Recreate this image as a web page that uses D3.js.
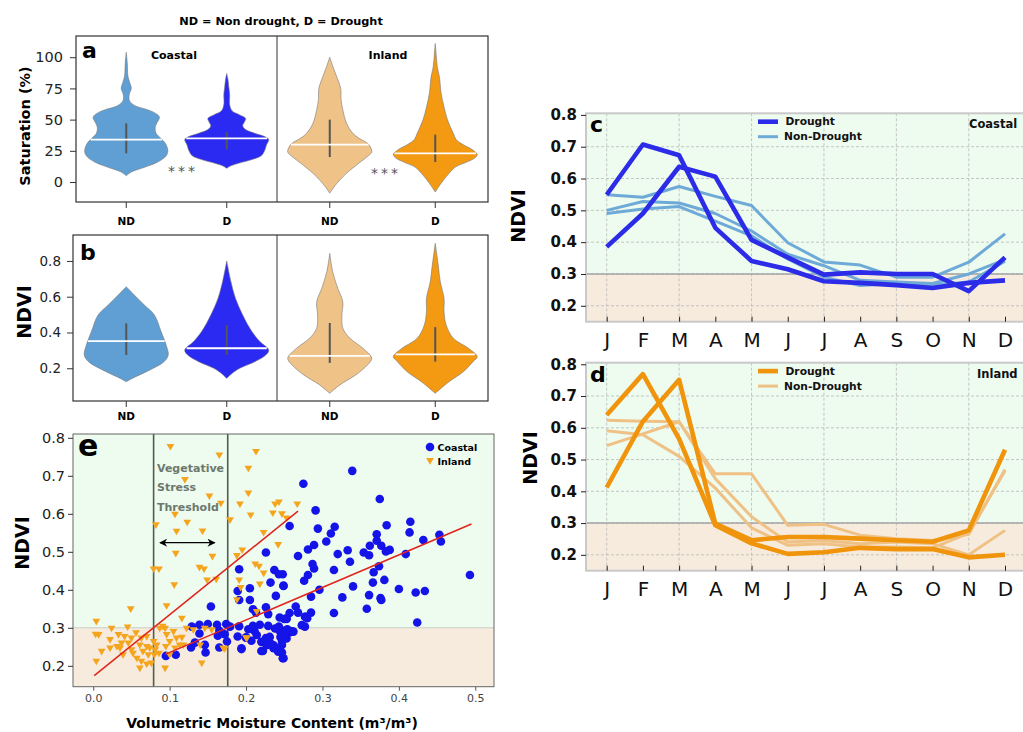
<!DOCTYPE html>
<html>
<head>
<meta charset="utf-8">
<script src="https://cdn.jsdelivr.net/npm/d3@7/dist/d3.min.js"></script>
<style>
  html, body { margin: 0; padding: 0; background: #fff; }
  svg { display: block; }
  text { font-family: "DejaVu Sans", Verdana, sans-serif; }
</style>
</head>
<body>
<svg id="fig" width="1023" height="732"></svg>
<script>
// ================= data =================
const categories = ["ND", "D"];
const violinColors = ["#5f9fd4", "#2a2af2", "#efc388", "#f39a12"];

// violin outlines: [value, relative half-width]
const satCoastalND = [[5,0],[8,0.12],[12,0.45],[16,0.75],[21,0.95],[25,0.99],[31,0.93],[35,0.82],[39,0.71],[44,0.69],[48,0.74],[52,0.79],[55,0.7],[58,0.5],[61,0.22],[65,0.08],[70,0.07],[75,0.12],[80,0.08],[85,0.04],[95,0.025],[104,0]];
const satCoastalD = [[11,0],[13,0.1],[15,0.28],[18,0.6],[21,0.82],[25,0.9],[30,0.95],[34,1.0],[36,0.93],[39,0.67],[42,0.45],[45,0.38],[48,0.42],[51,0.45],[54,0.3],[57,0.13],[62,0.07],[70,0.07],[76,0.05],[82,0.03],[87,0]];
const satInlandND = [[-9,0],[-4,0.1],[2,0.25],[7,0.4],[15,0.69],[20,0.88],[24,1.0],[28,0.97],[31,0.9],[35,0.7],[39,0.55],[47,0.4],[58,0.31],[66,0.27],[75,0.26],[84,0.17],[92,0.08],[100,0]];
const satInlandD = [[-8,0],[-1,0.14],[7,0.33],[12,0.48],[16,0.75],[19,0.93],[22,1.0],[26,0.88],[30,0.66],[34,0.5],[39,0.43],[50,0.29],[60,0.21],[71,0.14],[84,0.1],[92,0.05],[103,0.02],[111,0]];
const satMedian = [34, 35, 30, 23];
const satQ1 = [23, 26, 20, 16];
const satQ3 = [47, 40, 50, 38];
const satTicks = [0, 25, 50, 75, 100];

const ndviCoastalND = [[0.125,0],[0.15,0.2],[0.181,0.48],[0.237,0.9],[0.274,1.0],[0.33,0.95],[0.405,0.83],[0.498,0.67],[0.554,0.43],[0.61,0.19],[0.656,0]];
const ndviCoastalD = [[0.144,0],[0.17,0.12],[0.2,0.31],[0.237,0.67],[0.274,0.93],[0.302,1.0],[0.349,0.79],[0.405,0.6],[0.498,0.38],[0.59,0.21],[0.684,0.1],[0.8,0]];
const ndviInlandND = [[0.06,0],[0.107,0.24],[0.163,0.62],[0.219,0.9],[0.256,1.0],[0.312,0.79],[0.368,0.48],[0.424,0.31],[0.498,0.29],[0.572,0.31],[0.647,0.19],[0.74,0.07],[0.842,0]];
const ndviInlandD = [[0.06,0],[0.125,0.33],[0.181,0.67],[0.237,0.9],[0.265,1.0],[0.312,0.79],[0.368,0.43],[0.442,0.26],[0.516,0.21],[0.59,0.21],[0.684,0.12],[0.777,0.07],[0.898,0]];
const ndviMedian = [0.352, 0.312, 0.269, 0.278];
const ndviQ1 = [0.274, 0.274, 0.23, 0.237];
const ndviQ3 = [0.451, 0.442, 0.453, 0.43];
const ndviTicks = [0.2, 0.4, 0.6, 0.8];

// monthly NDVI
const months = ["J","F","M","A","M","J","J","A","S","O","N","D"];
const coastalDrought = [
  [0.549, 0.707, 0.673, 0.445, 0.341, 0.315, 0.277, 0.272, 0.265, 0.256, 0.272, 0.28],
  [0.385, 0.49, 0.637, 0.606, 0.407, 0.352, 0.298, 0.305, 0.30, 0.30, 0.246, 0.352]
];
const coastalNonDrought = [
  [0.549, 0.541, 0.575, 0.544, 0.515, 0.398, 0.338, 0.328, 0.29, 0.29, 0.337, 0.426],
  [0.50, 0.528, 0.523, 0.49, 0.435, 0.362, 0.326, 0.28, 0.275, 0.27, 0.30, 0.345],
  [0.49, 0.504, 0.512, 0.466, 0.42, 0.347, 0.29, 0.264, 0.27, 0.265, 0.275, 0.34]
];
const inlandDrought = [
  [0.64, 0.769, 0.565, 0.293, 0.236, 0.203, 0.208, 0.222, 0.218, 0.218, 0.192, 0.20],
  [0.412, 0.62, 0.751, 0.298, 0.246, 0.256, 0.256, 0.251, 0.246, 0.241, 0.277, 0.531]
];
const inlandNonDrought = [
  [0.624, 0.621, 0.619, 0.455, 0.455, 0.293, 0.296, 0.262, 0.251, 0.245, 0.265, 0.469],
  [0.544, 0.581, 0.619, 0.44, 0.32, 0.24, 0.245, 0.235, 0.24, 0.235, 0.20, 0.277],
  [0.591, 0.578, 0.51, 0.41, 0.285, 0.23, 0.235, 0.225, 0.225, 0.222, 0.268, 0.465]
];
const monthTicks = [0.2, 0.3, 0.4, 0.5, 0.6, 0.7, 0.8];

// soil moisture vs NDVI: [moisture, ndvi]
const coastalPoints = [
[0.339,0.713],[0.275,0.679],[0.375,0.639],[0.291,0.609],[0.257,0.568],[0.294,0.561],[0.316,0.566],[0.311,0.548],[0.384,0.570],[0.415,0.579],[0.414,0.551],[0.371,0.546],[0.371,0.529],[0.362,0.516],[0.377,0.516],[0.383,0.501],[0.388,0.505],[0.305,0.527],[0.289,0.518],[0.281,0.506],[0.268,0.489],[0.320,0.494],[0.333,0.504],[0.336,0.474],[0.354,0.498],[0.361,0.491],[0.409,0.494],[0.432,0.531],[0.453,0.545],[0.455,0.527],[0.493,0.439],[0.287,0.468],[0.289,0.456],[0.315,0.452],[0.374,0.462],[0.367,0.446],[0.281,0.439],[0.276,0.424],[0.381,0.426],[0.366,0.419],[0.248,0.441],[0.249,0.410],[0.340,0.409],[0.296,0.400],[0.400,0.402],[0.422,0.393],[0.434,0.397],[0.285,0.382],[0.326,0.380],[0.361,0.386],[0.376,0.378],[0.377,0.373],[0.358,0.350],[0.315,0.339],[0.424,0.314],[0.265,0.356],[0.257,0.339],[0.268,0.340],[0.285,0.340],[0.278,0.329],[0.280,0.325],[0.253,0.323],[0.244,0.327],[0.277,0.303],
[0.244,0.292],[0.250,0.292],[0.254,0.296],[0.257,0.288],[0.262,0.290],[0.251,0.279],[0.247,0.266],[0.251,0.273],[0.247,0.255],[0.247,0.235],[0.249,0.220],
[0.226,0.498],[0.191,0.454],[0.237,0.452],[0.243,0.441],[0.232,0.419],[0.205,0.404],[0.249,0.411],[0.189,0.397],[0.239,0.384],[0.191,0.373],[0.205,0.373],[0.154,0.356],[0.209,0.349],[0.226,0.354],[0.229,0.336],[0.250,0.323],[0.213,0.340],
[0.129,0.303],[0.139,0.308],[0.150,0.310],[0.162,0.308],[0.174,0.310],[0.139,0.285],[0.163,0.279],[0.172,0.283],[0.165,0.292],[0.179,0.303],[0.191,0.304],[0.189,0.277],[0.200,0.275],[0.203,0.296],[0.211,0.292],[0.218,0.308],[0.229,0.305],
[0.095,0.226],[0.108,0.229],[0.128,0.248],[0.133,0.261],[0.146,0.255],[0.147,0.235],[0.165,0.248],[0.175,0.264],[0.194,0.244],[0.207,0.266],[0.220,0.239],[0.226,0.273],[0.233,0.257],[0.244,0.248],[0.248,0.220],
[0.194,0.246],[0.200,0.274],[0.209,0.305],[0.214,0.281],[0.220,0.263],[0.222,0.239],[0.227,0.254],[0.231,0.276],[0.236,0.254],[0.238,0.298],[0.245,0.276],[0.251,0.285],[0.253,0.272],[0.242,0.237],[0.236,0.246],[0.243,0.303],[0.253,0.325],[0.260,0.291],[0.273,0.307],[0.277,0.329]
];
const inlandPoints = [
[0.101,0.776],[0.165,0.754],[0.213,0.763],[0.203,0.719],[0.120,0.689],[0.152,0.646],[0.203,0.654],[0.167,0.627],[0.192,0.625],[0.238,0.625],[0.243,0.630],[0.267,0.625],[0.107,0.598],[0.206,0.596],[0.235,0.601],[0.247,0.599],[0.253,0.588],[0.179,0.583],[0.082,0.570],[0.123,0.577],[0.143,0.554],[0.109,0.553],[0.223,0.550],[0.242,0.518],[0.108,0.495],[0.156,0.487],[0.195,0.504],[0.188,0.489],[0.079,0.454],[0.086,0.454],[0.139,0.458],[0.145,0.454],[0.149,0.425],[0.161,0.427],[0.212,0.467],[0.217,0.461],[0.223,0.443],[0.106,0.412],[0.191,0.425],[0.218,0.414],[0.193,0.405],[0.188,0.373],[0.096,0.357],[0.116,0.324],[0.049,0.349],[0.214,0.342],
[0.004,0.316],[0.024,0.298],[0.045,0.301],[0.003,0.282],[0.007,0.281],[0.004,0.211],[0.011,0.237],[0.022,0.268],[0.031,0.250],[0.035,0.246],[0.039,0.228],[0.046,0.259],[0.050,0.241],[0.056,0.286],[0.057,0.219],[0.061,0.193],[0.070,0.204],[0.072,0.228],[0.079,0.263],[0.083,0.254],[0.087,0.298],[0.091,0.303],[0.094,0.298],[0.096,0.281],[0.105,0.289],[0.107,0.246],[0.113,0.254],[0.116,0.274],[0.122,0.298],[0.131,0.294],[0.140,0.254],[0.142,0.206],[0.146,0.298],[0.155,0.294],[0.170,0.246],[0.172,0.244],[0.200,0.273],[0.201,0.272],[0.022,0.246],[0.033,0.281],[0.061,0.254],[0.063,0.272],[0.070,0.276],[0.074,0.246],[0.052,0.232],[0.063,0.211],[0.080,0.228],[0.094,0.193],[0.100,0.228],[0.095,0.250],[0.086,0.232],[0.076,0.206],[0.041,0.276],[0.050,0.272],[0.037,0.259],[0.065,0.237],[0.070,0.250],[0.081,0.241],[0.100,0.263],[0.109,0.272],[0.118,0.254]
];
const inlandFit = [[0.0013, 0.174], [0.268, 0.607]];
const coastalFit = [[0.094, 0.23], [0.495, 0.573]];
const stressThreshold = [0.079, 0.176];
const moistureTicks = [0.0, 0.1, 0.2, 0.3, 0.4, 0.5];
const scatterNdviTicks = [0.2, 0.3, 0.4, 0.5, 0.6, 0.7, 0.8];

// ================= drawing =================
const svg = d3.select("#fig");
svg.append("rect").attr("width", 1023).attr("height", 732).attr("fill", "#fff");

const GREEN = "#eefbef", BEIGE = "#f7ebde";

function txt(g, x, y, s, o = {}) {
  return g.append("text").attr("x", x).attr("y", y).text(s)
    .attr("font-size", o.size || 12)
    .attr("font-weight", o.bold ? "bold" : "normal")
    .attr("fill", o.fill || "#000")
    .attr("text-anchor", o.anchor || "start");
}
function vtxt(g, x, y, s, o = {}) {
  return g.append("text").attr("transform", `translate(${x},${y}) rotate(-90)`)
    .attr("text-anchor", "middle").text(s)
    .attr("font-size", o.size || 12).attr("font-weight", "bold").attr("fill", "#000");
}
function widthAt(profile, v) {
  for (let i = 1; i < profile.length; i++) {
    const [v0, w0] = profile[i - 1], [v1, w1] = profile[i];
    if (v >= v0 && v <= v1) return w0 + (w1 - w0) * (v - v0) / (v1 - v0);
  }
  return 0;
}

// ---------- violin panels (a, b) ----------
function violinPanel(p) {
  const g = svg.append("g");
  const y = d3.scaleLinear().domain(p.domain).range([p.bottom, p.top]);
  const xC = d3.scalePoint().domain(categories).range([76, 277]).padding(0.5);
  const xI = d3.scalePoint().domain(categories).range([277, 488]).padding(0.5);
  const half = d3.scaleLinear().domain([0, 1]).range([0, 42]);
  const centers = [xC("ND"), xC("D"), xI("ND"), xI("D")];

  p.profiles.forEach((prof, i) => {
    const cx = centers[i];
    const area = d3.area().curve(d3.curveCatmullRom.alpha(0.5))
      .y(d => y(d[0])).x0(d => cx - half(d[1])).x1(d => cx + half(d[1]));
    g.append("path").datum(prof).attr("d", area)
      .attr("fill", violinColors[i]).attr("stroke", "#777").attr("stroke-width", 0.6);
    g.append("line").attr("x1", cx).attr("x2", cx)
      .attr("y1", y(p.q1[i])).attr("y2", y(p.q3[i]))
      .attr("stroke", "#555").attr("stroke-width", 2);
    const hw = half(widthAt(prof, p.median[i]));
    g.append("line").attr("x1", cx - hw).attr("x2", cx + hw)
      .attr("y1", y(p.median[i])).attr("y2", y(p.median[i]))
      .attr("stroke", "#fff").attr("stroke-width", 1.8);
  });

  g.append("rect").attr("x", p.left).attr("y", p.top)
    .attr("width", 488 - p.left).attr("height", p.bottom - p.top)
    .attr("fill", "none").attr("stroke", "#333").attr("stroke-width", 1.2);
  g.append("line").attr("x1", 277).attr("x2", 277).attr("y1", p.top).attr("y2", p.bottom)
    .attr("stroke", "#333").attr("stroke-width", 1);

  const ax = g.append("g").attr("transform", `translate(${p.left},0)`)
    .call(d3.axisLeft(y).tickValues(p.ticks).tickSize(6).tickPadding(p.pad).tickFormat(p.fmt));
  ax.select(".domain").remove();
  ax.selectAll("line").attr("stroke", "#333");
  ax.selectAll("text").attr("font-size", p.tickFont).attr("fill", "#222")
    .style("font-family", '"DejaVu Sans", sans-serif');

  const cax = g.append("g").attr("transform", `translate(0,${p.bottom})`);
  centers.forEach((cx, i) => {
    cax.append("line").attr("x1", cx).attr("x2", cx).attr("y1", 0).attr("y2", 6).attr("stroke", "#333");
    txt(cax, cx, p.catDy, categories[i % 2], { size: 10.5, bold: true, anchor: "middle" });
  });

  txt(g, p.left + p.letterDx, p.letterY, p.letter, { size: 22, bold: true });
  return { g, y, centers };
}

txt(svg, 281, 25, "ND = Non drought, D = Drought", { size: 11.3, bold: true, anchor: "middle" });

const pa = violinPanel({
  left: 76, top: 36, bottom: 202, domain: [-16, 117],
  profiles: [satCoastalND, satCoastalD, satInlandND, satInlandD],
  median: satMedian, q1: satQ1, q3: satQ3, ticks: satTicks, fmt: d3.format("d"),
  tickFont: 14.5, pad: 7, catDy: 23, letter: "a", letterDx: 6, letterY: 58
});
txt(pa.g, 174, 59, "Coastal", { size: 11, bold: true, anchor: "middle" });
txt(pa.g, 388, 59, "Inland", { size: 11, bold: true, anchor: "middle" });
txt(pa.g, 183, 175.5, "***", { size: 14, fill: "#555", anchor: "middle" }).attr("letter-spacing", 3);
txt(pa.g, 386, 177.5, "***", { size: 14, fill: "#555", anchor: "middle" }).attr("letter-spacing", 3);
vtxt(svg, 29.5, 126, "Saturation (%)", { size: 14.5 });

const pb = violinPanel({
  left: 73, top: 235, bottom: 401, domain: [0.017, 0.945],
  profiles: [ndviCoastalND, ndviCoastalD, ndviInlandND, ndviInlandD],
  median: ndviMedian, q1: ndviQ1, q3: ndviQ3, ticks: ndviTicks, fmt: d3.format(".1f"),
  tickFont: 13.5, pad: 6, catDy: 19, letter: "b", letterDx: 7, letterY: 260
});
vtxt(svg, 30.5, 312, "NDVI", { size: 19 });

// ---------- scatter panel (e) ----------
(function () {
  const g = svg.append("g");
  const L = 73, R = 494, T = 434, B = 686.7;
  const x = d3.scaleLinear().domain([-0.0265, 0.5245]).range([L, R]);
  const y = d3.scaleLinear().domain([0.145, 0.81]).range([B, T]);

  g.append("rect").attr("x", L).attr("y", T).attr("width", R - L).attr("height", y(0.3) - T).attr("fill", GREEN);
  g.append("rect").attr("x", L).attr("y", y(0.3)).attr("width", R - L).attr("height", B - y(0.3)).attr("fill", BEIGE);
  g.append("line").attr("x1", L).attr("x2", R).attr("y1", y(0.3)).attr("y2", y(0.3))
    .attr("stroke", "#c5cec5").attr("stroke-width", 1);

  stressThreshold.forEach(v => {
    g.append("line").attr("x1", x(v)).attr("x2", x(v)).attr("y1", T).attr("y2", B)
      .attr("stroke", "#4d5e4d").attr("stroke-width", 1.6);
  });

  g.selectAll(".coast").data(coastalPoints).join("circle")
    .attr("cx", d => x(d[0])).attr("cy", d => y(d[1])).attr("r", 4.3).attr("fill", "#1414e8");
  const tri = "M-3.9,-2.9L3.9,-2.9L0,3.7Z";
  g.selectAll(".inl").data(inlandPoints).join("path")
    .attr("d", tri).attr("transform", d => `translate(${x(d[0])},${y(d[1])})`).attr("fill", "#f5a51d");

  const fit = d3.line().x(d => x(d[0])).y(d => y(d[1]));
  [inlandFit, coastalFit].forEach(f => {
    g.append("path").datum(f).attr("d", fit).attr("fill", "none")
      .attr("stroke", "#e0241c").attr("stroke-width", 1.5);
  });

  // threshold annotation
  ["Vegetative", "Stress", "Threshold"].forEach((s, i) => {
    txt(g, 157, 471.5 + i * 19.5, s, { size: 11, bold: true, fill: "#6d786d" });
  });
  const defs = svg.append("defs");
  defs.append("marker").attr("id", "ah").attr("viewBox", "0 0 10 10").attr("refX", 9).attr("refY", 5)
    .attr("markerWidth", 9).attr("markerHeight", 8).attr("orient", "auto-start-reverse")
    .attr("markerUnits", "userSpaceOnUse")
    .append("path").attr("d", "M0,0 L10,5 L0,10 L3,5 Z").attr("fill", "#000");
  g.append("line").attr("x1", x(0.0873)).attr("x2", x(0.159)).attr("y1", y(0.524)).attr("y2", y(0.524))
    .attr("stroke", "#000").attr("stroke-width", 1.3)
    .attr("marker-start", "url(#ah)").attr("marker-end", "url(#ah)");

  g.append("rect").attr("x", L).attr("y", T).attr("width", R - L).attr("height", B - T)
    .attr("fill", "none").attr("stroke", "#666").attr("stroke-width", 1);

  const ay = g.append("g").attr("transform", `translate(${L},0)`)
    .call(d3.axisLeft(y).tickValues(scatterNdviTicks).tickSize(5).tickPadding(3).tickFormat(d3.format(".1f")));
  ay.select(".domain").remove();
  ay.selectAll("line").attr("stroke", "#333");
  ay.selectAll("text").attr("font-size", 14.5).attr("fill", "#222").style("font-family", '"DejaVu Sans", sans-serif');

  const axb = g.append("g").attr("transform", `translate(0,${B})`)
    .call(d3.axisBottom(x).tickValues(moistureTicks).tickSize(4).tickFormat(d3.format(".1f")));
  axb.select(".domain").remove();
  axb.selectAll("line").attr("stroke", "#555");
  axb.selectAll("text").attr("font-size", 11).attr("fill", "#444").attr("y", 15).attr("dy", null)
    .style("font-family", '"DejaVu Sans", sans-serif');

  // legend
  g.append("circle").attr("cx", 430).attr("cy", 447).attr("r", 4.3).attr("fill", "#1414e8");
  g.append("path").attr("d", tri).attr("transform", "translate(430,461)").attr("fill", "#f5a51d");
  txt(g, 437.5, 451, "Coastal", { size: 9.5, bold: true });
  txt(g, 437.5, 465, "Inland", { size: 9.5, bold: true });

  txt(g, 78, 456, "e", { size: 30, bold: true });
  vtxt(svg, 28.5, 543, "NDVI", { size: 19 });
  txt(g, 272, 728, "Volumetric Moisture Content (m³/m³)", { size: 14, bold: true, anchor: "middle" });
})();

// ---------- monthly panels (c, d) ----------
function monthPanel(p) {
  const g = svg.append("g");
  const L = 586, R = 1032;
  const x = d3.scaleLinear().domain([0, 11]).range([606.7, 1005]);
  const y = d3.scaleLinear().domain([0.15, 0.805]).range([p.bottom, p.top]);

  g.append("rect").attr("x", L).attr("y", p.top).attr("width", R - L).attr("height", y(0.3) - p.top).attr("fill", GREEN);
  g.append("rect").attr("x", L).attr("y", y(0.3)).attr("width", R - L).attr("height", p.bottom - y(0.3)).attr("fill", BEIGE);

  monthTicks.filter(v => v < 0.8).forEach(v => {
    g.append("line").attr("x1", L).attr("x2", R).attr("y1", y(v)).attr("y2", y(v))
      .attr("stroke", "#b8b8b8").attr("stroke-width", 0.8).attr("stroke-dasharray", "3,2");
  });
  d3.range(0, 12, 2).forEach(m => {
    g.append("line").attr("x1", x(m)).attr("x2", x(m)).attr("y1", p.top).attr("y2", p.bottom)
      .attr("stroke", "#b8b8b8").attr("stroke-width", 0.8).attr("stroke-dasharray", "3,2");
  });
  g.append("line").attr("x1", L).attr("x2", R).attr("y1", y(0.3)).attr("y2", y(0.3))
    .attr("stroke", "#a5a5a5").attr("stroke-width", 1.5);

  const line = d3.line().x((d, i) => x(i)).y(d => y(d));
  p.nonDrought.forEach(s => {
    g.append("path").datum(s).attr("d", line).attr("fill", "none")
      .attr("stroke", p.light).attr("stroke-width", 3).attr("stroke-linejoin", "round");
  });
  p.drought.forEach(s => {
    g.append("path").datum(s).attr("d", line).attr("fill", "none")
      .attr("stroke", p.dark).attr("stroke-width", 4.6).attr("stroke-linejoin", "round");
  });

  g.append("rect").attr("x", L).attr("y", p.top).attr("width", R - L).attr("height", p.bottom - p.top)
    .attr("fill", "none").attr("stroke", "#c9c9c9").attr("stroke-width", 2);

  const ay = g.append("g").attr("transform", `translate(${L},0)`)
    .call(d3.axisLeft(y).tickValues(monthTicks).tickSize(5).tickPadding(4).tickFormat(d3.format(".1f")));
  ay.select(".domain").remove();
  ay.selectAll("line").attr("stroke", "#222");
  ay.selectAll("text").attr("font-size", 15).attr("font-weight", "bold").attr("fill", "#111")
    .style("font-family", '"DejaVu Sans", sans-serif');

  const ax = g.append("g").attr("transform", `translate(0,${p.bottom})`)
    .call(d3.axisBottom(x).tickValues(d3.range(12)).tickSize(-5).tickFormat(i => months[i]));
  ax.select(".domain").remove();
  ax.selectAll("line").attr("stroke", "#222");
  ax.selectAll("text").attr("font-size", 20).attr("fill", "#111").attr("y", 25.5).attr("dy", null)
    .style("font-family", '"DejaVu Sans", sans-serif');

  // legend
  g.append("line").attr("x1", 758).attr("x2", 778).attr("y1", p.top + 8.4).attr("y2", p.top + 8.4)
    .attr("stroke", p.dark).attr("stroke-width", 4.6);
  g.append("line").attr("x1", 758).attr("x2", 778).attr("y1", p.top + 23.4).attr("y2", p.top + 23.4)
    .attr("stroke", p.light).attr("stroke-width", 3);
  txt(g, 785.5, p.top + 12, "Drought", { size: 10.7, bold: true, fill: "#111" });
  txt(g, 784, p.top + 27, "Non-Drought", { size: 10.7, bold: true, fill: "#111" });
  txt(g, p.regionX, p.top + 15, p.region, { size: 11.5, bold: true, fill: "#111" });

  txt(g, 590, p.top + 19, p.letter, { size: 22, bold: true });
  vtxt(svg, p.labelX, p.labelY, "NDVI", { size: 19 });
}

monthPanel({
  top: 113.3, bottom: 321.7, drought: coastalDrought, nonDrought: coastalNonDrought,
  dark: "#2b2be8", light: "#6eaad8", region: "Coastal", regionX: 969, letter: "c",
  labelX: 525, labelY: 216
});
monthPanel({
  top: 362.7, bottom: 570.7, drought: inlandDrought, nonDrought: inlandNonDrought,
  dark: "#f0940c", light: "#efc185", region: "Inland", regionX: 977, letter: "d",
  labelX: 537, labelY: 458
});
</script>
</body>
</html>
